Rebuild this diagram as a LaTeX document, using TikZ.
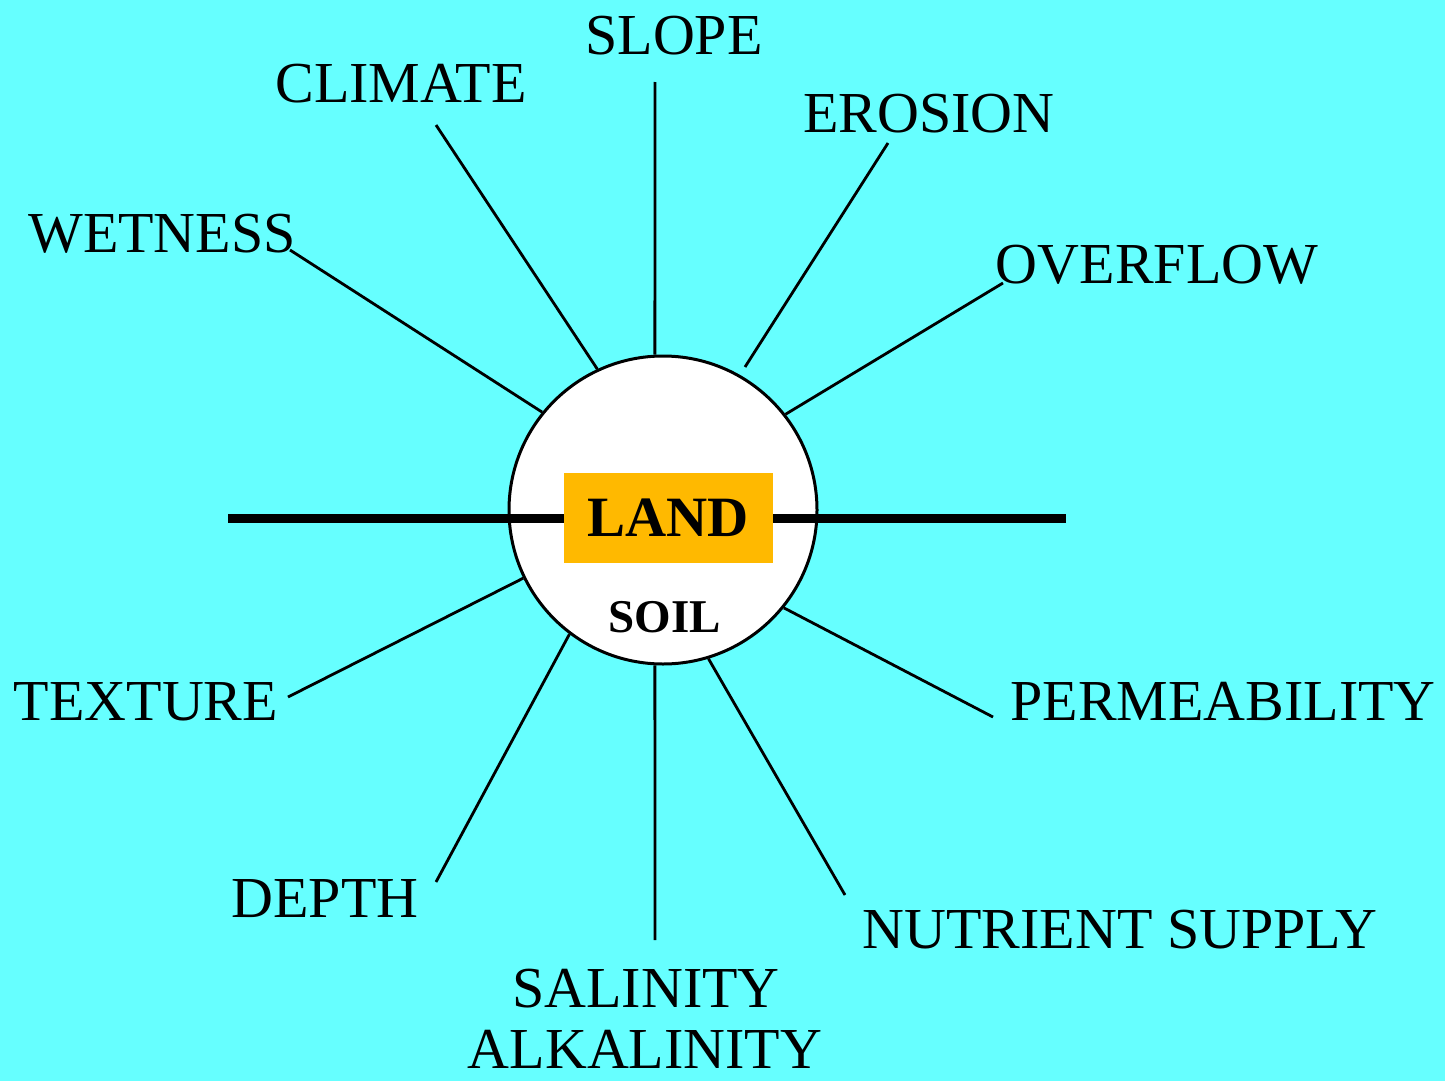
\documentclass[tikz,border=0pt]{standalone}
\usepackage{fontspec}
\setmainfont{Liberation Serif}
\definecolor{bgcyan}{RGB}{102,255,255}
\definecolor{landorange}{RGB}{255,185,0}
\begin{document}
\begin{tikzpicture}[x=1pt,y=-1pt,
  lbl/.style={inner sep=0pt, anchor=base, font=\fontsize{58}{60}\selectfont},
  ray/.style={draw=black, line width=2.8pt},
  ]
\fill[bgcyan] (0,0) rectangle (1445,1081);
\useasboundingbox (0,0) rectangle (1445,1081);

% central circle
\node[circle, draw=black, line width=3pt, fill=white, minimum size=308pt, inner sep=0pt] (soil) at (663,510) {};

% thick horizontal bar
\coordinate (hl) at (228,518);
\coordinate (hr) at (1066,518);
\draw[line width=9pt] (hl) -- (hr);

\node[fill=landorange, minimum width=209pt, minimum height=90pt, inner sep=0pt,
  font=\fontsize{57}{60}\selectfont\bfseries] (land) at (668,518) {LAND};
\node[inner sep=0pt, anchor=base, font=\fontsize{47}{50}\selectfont\bfseries] (soiltxt) at (665,632) {SOIL};

% labels
\node[lbl] (slope)   at (674,55)   {SLOPE};
\node[lbl] (climate) at (401,102)  {CLIMATE};
\node[lbl] (wetness) at (162,252)  {WETNESS};
\node[lbl] (erosion) at (929,132)  {EROSION};
\node[lbl] (overflow) at (1157,283) {OVERFLOW};
\node[lbl] (texture) at (146,720)  {TEXTURE};
\node[lbl] (perm)    at (1223,720) {PERMEABILITY};
\node[lbl] (depth)   at (325,917)  {DEPTH};
\node[lbl] (nutr)    at (1120,948) {NUTRIENT SUPPLY};
\node[lbl] (salin)   at (646,1007) {SALINITY};
\node[lbl] (alkal)   at (645,1068) {ALKALINITY};

% outer ends of the rays
\coordinate (oSlope) at (655,82);
\coordinate (oClim)  at (436,125);
\coordinate (oWet)   at (290,250);
\coordinate (oEro)   at (888,143);
\coordinate (iEro)   at (745,367);
\coordinate (oOver)  at (1003,283);
\coordinate (oTex)   at (288,697);
\coordinate (oDep)   at (436,882);
\coordinate (oSal)   at (655,940);
\coordinate (oNut)   at (845,895);
\coordinate (oPerm)  at (993,717);

\draw[ray] (oSlope) -- (soil.93);
\draw[ray] (oClim)  -- (soil.115);
\draw[ray] (oWet)   -- (soil.141.5);
\draw[ray] (oEro)   -- (iEro);
\draw[ray] (oOver)  -- (soil.38);
\draw[ray] (oTex)   -- (soil.206);
\draw[ray] (oDep)   -- (soil.233.6);
\draw[ray] (oSal)   -- (soil.267);
\draw[ray] (oNut)   -- (soil.287.7);
\draw[ray] (oPerm)  -- (soil.321.3);
\end{tikzpicture}
\end{document}
